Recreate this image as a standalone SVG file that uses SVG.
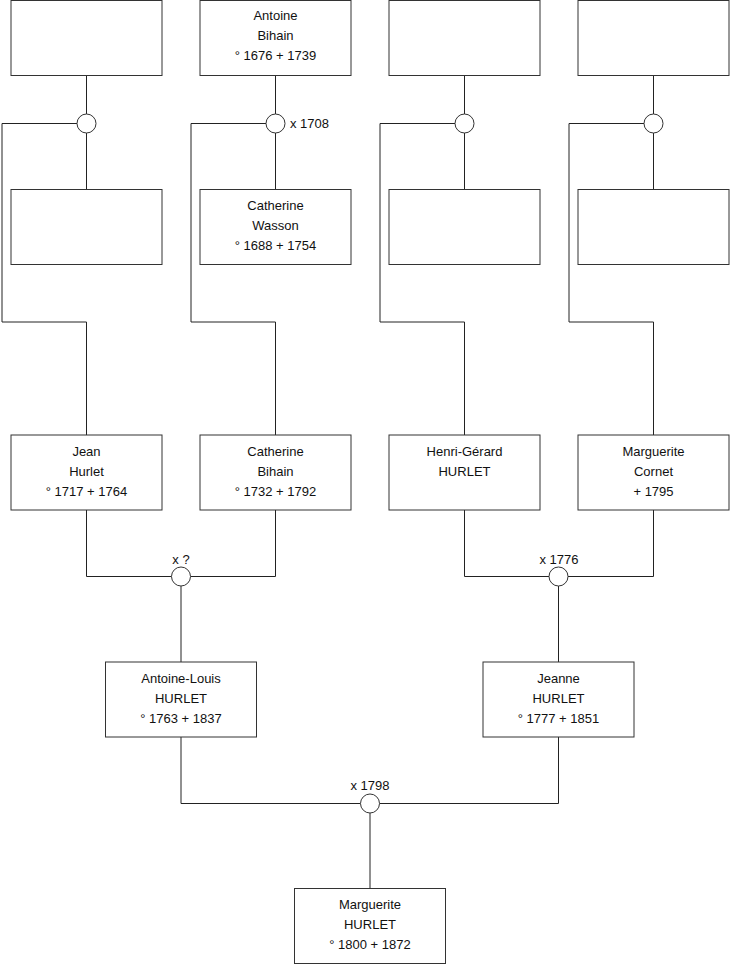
<svg xmlns="http://www.w3.org/2000/svg" width="740" height="975" viewBox="0 0 740 975">
<style>
.box{fill:#fff;stroke:#333;stroke-width:1}
.ln{fill:none;stroke:#222;stroke-width:1}
.mar{fill:#fff;stroke:#333;stroke-width:1}
text{font-family:"Liberation Sans",Arial,sans-serif;font-size:13px;fill:#111;text-anchor:middle}
.lbl{text-anchor:start}
</style>
<rect width="740" height="975" fill="#fff"/>
<g id="connectors">
<path class="ln" d="M86.5 76V114M86.5 133V189M77 123.5H2V322H86.5V435"/>
<path class="ln" d="M275.5 76V114M275.5 133V189M266 123.5H191V322H275.5V435"/>
<path class="ln" d="M464.5 76V114M464.5 133V189M455 123.5H380V322H464.5V435"/>
<path class="ln" d="M653.5 76V114M653.5 133V189M644 123.5H569V322H653.5V435"/>
<path class="ln" d="M86.5 510V576.5H171.5M190.5 576.5H275.5V510M181 586V662"/>
<path class="ln" d="M464.5 510V576.5H549M568 576.5H653.5V510M558.5 586V662"/>
<path class="ln" d="M181 737V803.5H360.5M379.5 803.5H558.5V737M370 813V888"/>
</g>
<g id="m1"><circle class="mar" cx="86.5" cy="123.5" r="9.5"/></g>
<g id="m2"><circle class="mar" cx="275.5" cy="123.5" r="9.5"/><text class="lbl" x="290" y="128">x 1708</text></g>
<g id="m3"><circle class="mar" cx="464.5" cy="123.5" r="9.5"/></g>
<g id="m4"><circle class="mar" cx="653.5" cy="123.5" r="9.5"/></g>
<g id="m5"><circle class="mar" cx="181" cy="576.5" r="9.5"/><text x="181" y="564">x ?</text></g>
<g id="m6"><circle class="mar" cx="558.5" cy="576.5" r="9.5"/><text x="559" y="564">x 1776</text></g>
<g id="m7"><circle class="mar" cx="370" cy="803.5" r="9.5"/><text x="370" y="790">x 1798</text></g>
<g id="p1"><rect class="box" x="11" y="0.5" width="151" height="75"/></g>
<g id="p2"><rect class="box" x="200" y="0.5" width="151" height="75"/><text x="275.5" y="20">Antoine</text><text x="275.5" y="40">Bihain</text><text x="275.5" y="60">° 1676 + 1739</text></g>
<g id="p3"><rect class="box" x="389" y="0.5" width="151" height="75"/></g>
<g id="p4"><rect class="box" x="578" y="0.5" width="151" height="75"/></g>
<g id="p5"><rect class="box" x="11" y="189.5" width="151" height="75"/></g>
<g id="p6"><rect class="box" x="200" y="189.5" width="151" height="75"/><text x="275.5" y="210">Catherine</text><text x="275.5" y="230">Wasson</text><text x="275.5" y="250">° 1688 + 1754</text></g>
<g id="p7"><rect class="box" x="389" y="189.5" width="151" height="75"/></g>
<g id="p8"><rect class="box" x="578" y="189.5" width="151" height="75"/></g>
<g id="p9"><rect class="box" x="11" y="435" width="151" height="75"/><text x="86.5" y="455.5">Jean</text><text x="86.5" y="475.5">Hurlet</text><text x="86.5" y="495.5">° 1717 + 1764</text></g>
<g id="p10"><rect class="box" x="200" y="435" width="151" height="75"/><text x="275.5" y="455.5">Catherine</text><text x="275.5" y="475.5">Bihain</text><text x="275.5" y="495.5">° 1732 + 1792</text></g>
<g id="p11"><rect class="box" x="389" y="435" width="151" height="75"/><text x="464.5" y="455.5">Henri-Gérard</text><text x="464.5" y="475.5">HURLET</text></g>
<g id="p12"><rect class="box" x="578" y="435" width="151" height="75"/><text x="653.5" y="455.5">Marguerite</text><text x="653.5" y="475.5">Cornet</text><text x="653.5" y="495.5">+ 1795</text></g>
<g id="p13"><rect class="box" x="105.5" y="662" width="151" height="75"/><text x="181" y="682.5">Antoine-Louis</text><text x="181" y="702.5">HURLET</text><text x="181" y="722.5">° 1763 + 1837</text></g>
<g id="p14"><rect class="box" x="483" y="662" width="151" height="75"/><text x="558.5" y="682.5">Jeanne</text><text x="558.5" y="702.5">HURLET</text><text x="558.5" y="722.5">° 1777 + 1851</text></g>
<g id="p15"><rect class="box" x="294.5" y="888.5" width="151" height="75"/><text x="370" y="909">Marguerite</text><text x="370" y="929">HURLET</text><text x="370" y="949">° 1800 + 1872</text></g>
</svg>
